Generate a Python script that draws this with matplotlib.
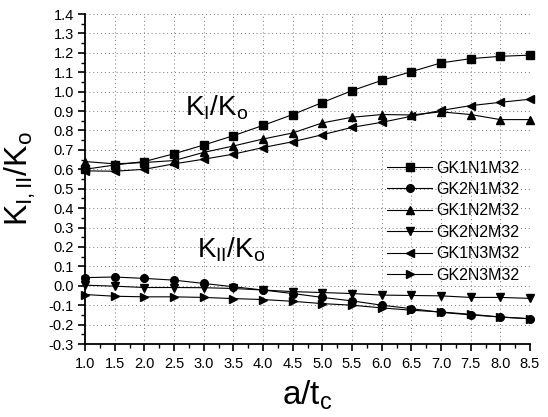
import numpy as np
import matplotlib
matplotlib.use("Agg")
import matplotlib.pyplot as plt
from matplotlib.ticker import MultipleLocator, FormatStrFormatter

plt.rcParams['font.family'] = ['Liberation Sans', 'DejaVu Sans']
plt.rcParams['mathtext.fontset'] = 'custom'
plt.rcParams['mathtext.rm'] = 'Liberation Sans'
plt.rcParams['mathtext.it'] = 'Liberation Sans'

a_tc = [1.0, 1.5, 2.0, 2.5, 3.0, 3.5, 4.0, 4.5, 5.0, 5.5, 6.0, 6.5, 7.0, 7.5, 8.0, 8.5]

# K_I / K_o
gk1n1m32 = [0.600, 0.622, 0.640, 0.680, 0.725, 0.773, 0.826, 0.882, 0.944, 1.005,
            1.058, 1.103, 1.148, 1.170, 1.182, 1.188]
gk1n2m32 = [0.640, 0.628, 0.635, 0.645, 0.687, 0.720, 0.756, 0.787, 0.839, 0.868,
            0.882, 0.880, 0.896, 0.882, 0.856, 0.856]
gk1n3m32 = [0.592, 0.590, 0.600, 0.628, 0.652, 0.678, 0.712, 0.742, 0.778, 0.816,
            0.842, 0.873, 0.903, 0.928, 0.945, 0.961]

# K_II / K_o
gk2n1m32 = [0.042, 0.045, 0.038, 0.029, 0.012, -0.005, -0.022, -0.040, -0.060, -0.078,
            -0.100, -0.118, -0.137, -0.150, -0.161, -0.170]
gk2n2m32 = [0.003, -0.002, -0.009, -0.009, -0.010, -0.014, -0.022, -0.030, -0.035, -0.040,
            -0.048, -0.050, -0.052, -0.060, -0.060, -0.065]
gk2n3m32 = [-0.045, -0.054, -0.057, -0.057, -0.060, -0.066, -0.071, -0.080, -0.092, -0.100,
            -0.114, -0.126, -0.135, -0.147, -0.161, -0.170]

series = [
    ("GK1N1M32", gk1n1m32, "s"),
    ("GK2N1M32", gk2n1m32, "o"),
    ("GK1N2M32", gk1n2m32, "^"),
    ("GK2N2M32", gk2n2m32, "v"),
    ("GK1N3M32", gk1n3m32, "<"),
    ("GK2N3M32", gk2n3m32, ">"),
]

fig = plt.figure(figsize=(5.48, 4.17), dpi=100)
ax = fig.add_axes([85 / 548, 1 - 344 / 417, 445 / 548, 330 / 417])

for name, vals, mk in series:
    ax.plot(a_tc, vals, color="black", lw=0.8, marker=mk, markersize=5.5,
            label=name, clip_on=False, zorder=3)

ax.set_xlim(1.0, 8.5)
ax.set_ylim(-0.3, 1.4)
ax.xaxis.set_major_locator(MultipleLocator(0.5))
ax.xaxis.set_minor_locator(MultipleLocator(0.25))
ax.yaxis.set_major_locator(MultipleLocator(0.1))
ax.yaxis.set_minor_locator(MultipleLocator(0.05))
ax.xaxis.set_major_formatter(FormatStrFormatter('%.1f'))
ax.yaxis.set_major_formatter(FormatStrFormatter('%.1f'))
ax.grid(True, which="major", linestyle=(0, (1, 3)), color="#777777", lw=0.7)

ax.spines['top'].set_visible(False)
ax.spines['right'].set_visible(False)
ax.spines['left'].set_linewidth(1.3)
ax.spines['bottom'].set_linewidth(1.3)
ax.tick_params(which="major", direction="out", length=5, width=1.2, labelsize=10.5)
ax.tick_params(axis="y", which="major", pad=3)
ax.tick_params(axis="x", which="major", pad=4)
ax.tick_params(which="minor", direction="out", length=3, width=1.0)

ax.set_xlabel(r"$\mathregular{a/t_c}$", fontsize=24, labelpad=6)
ax.set_ylabel(r"$\mathregular{K_{I,II}/K_o}$", fontsize=23, labelpad=8)

ax.text(2.68, 0.875, r"$\mathregular{K_I/K_o}$", fontsize=20)
ax.text(2.89, 0.145, r"$\mathregular{K_{II}/K_o}$", fontsize=20)

ax.legend(loc="upper left", bbox_to_anchor=(0.665, 0.575), frameon=False,
          fontsize=11.5, handlelength=2.8, labelspacing=0.4, handletextpad=0.25,
          borderaxespad=0)

fig.savefig("out.png", dpi=100)
